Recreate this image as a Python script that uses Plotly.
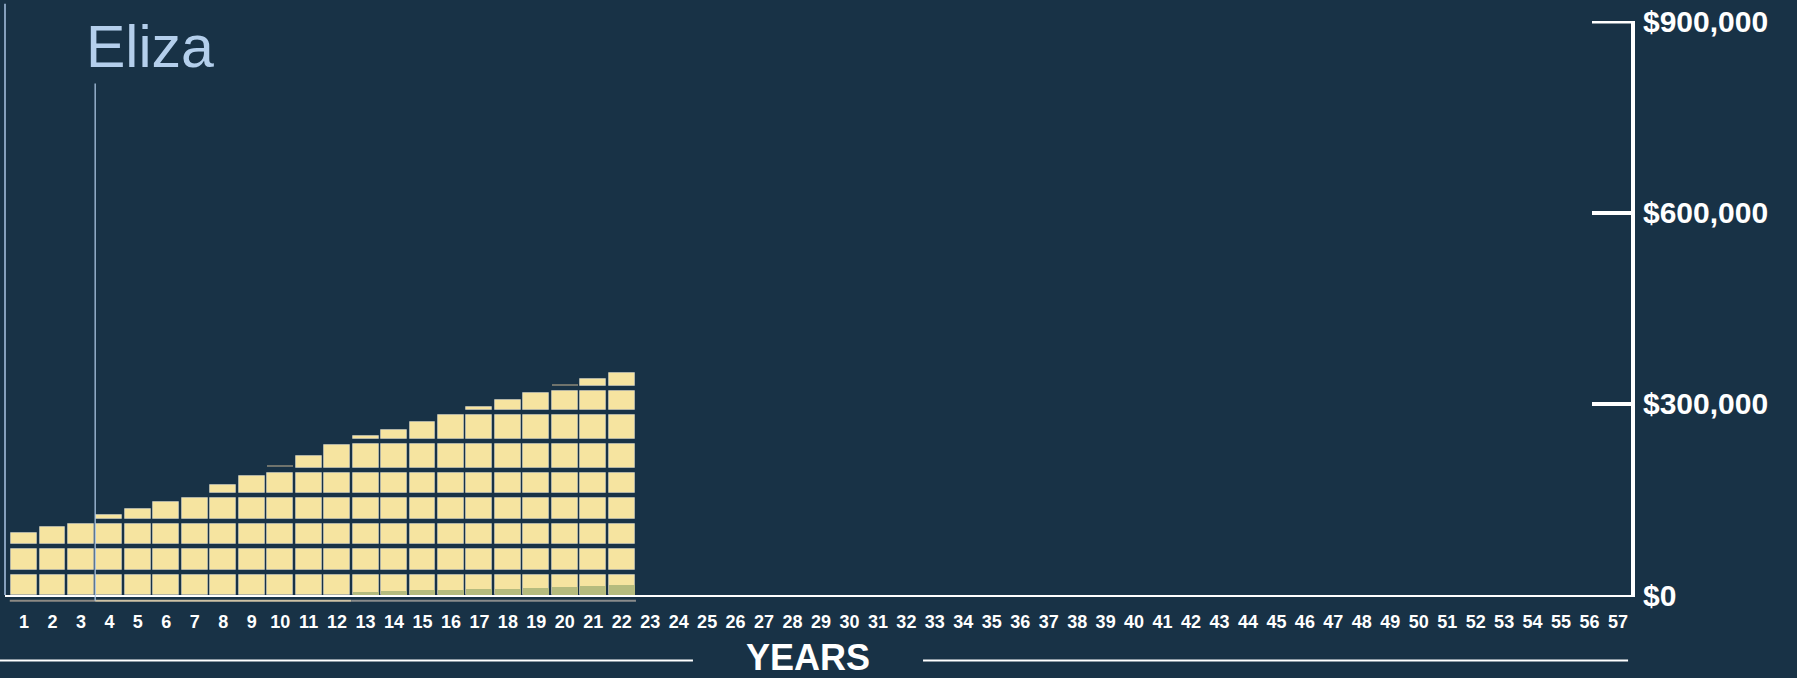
import plotly.graph_objects as go

# ---------------- data ----------------
YEARS = list(range(1, 58))
BALANCE = [105000, 114000, 120000, 133400, 143200, 153700, 160000, 180100, 194100, 203000,
           226700, 244000, 256700, 267100, 279000, 291000, 302300, 313800, 325100, 329500,
           347300, 356200] + [None] * 35
GROWTH = [None] * 12 + [5400, 6200, 7300, 8200, 8900, 9800, 11300, 12400, 14000, 16000] + [None] * 35
BLOCK_EDGES = [0, 40000, 80000, 120000, 160000, 200000, 245000, 291000, 328000, 368000]
PHASE_START = [1, 4, 13]
PHASE_END = [3, 12, 22]
MARKER_YEAR = 3.5
MARKER_LABEL = "Eliza"
Y_TICKS = [0, 300000, 600000, 900000]
Y_TICK_TEXT = ["$0", "$300,000", "$600,000", "$900,000"]
X_TITLE = "YEARS"

# ---------------- style ----------------
BG = "#183246"
BAR = "#f6e4a0"
GREEN = "#b5bb7e"
THIN = "#6f736c"
PHASE_COLORS = ["#8d8a84", "#cfc3a6", "#8a8c8c"]
LIGHT_BLUE = "#b4cfec"
FONT = "Liberation Sans, Arial, sans-serif"
GAP = 8000
THIN_H = 1500
BAR_W = 0.91
TICK_LEN = 39
PLOT_W = 1797 - 5 - 166

fig = go.Figure()

# stacked blocks
thin_x, thin_base = [], []
for k in range(len(BLOCK_EDGES) - 1):
    lo, hi = BLOCK_EDGES[k], BLOCK_EDGES[k + 1]
    bases, heights = [], []
    for yr, v in zip(YEARS, BALANCE):
        if v is None or v <= lo:
            bases.append(None); heights.append(None); continue
        s = min(v, hi) - lo
        if s > GAP:
            bases.append(lo); heights.append(s - GAP)
        else:
            bases.append(None); heights.append(None)
            thin_x.append(yr); thin_base.append(v - THIN_H)
    fig.add_trace(go.Bar(x=YEARS, y=heights, base=bases, width=BAR_W,
                         marker=dict(color=BAR, line=dict(color="rgba(255,255,255,0.35)", width=1)),
                         showlegend=False, hoverinfo="skip"))

fig.add_trace(go.Bar(x=thin_x, y=[THIN_H] * len(thin_x), base=thin_base, width=BAR_W,
                     marker=dict(color=THIN, line=dict(width=0)), showlegend=False, hoverinfo="skip"))

fig.add_trace(go.Bar(x=YEARS, y=GROWTH, base=[0] * len(YEARS), width=BAR_W,
                     marker=dict(color=GREEN, line=dict(width=0)), showlegend=False, hoverinfo="skip"))

# phase lines under the bars
shapes = []
for s, e, c in zip(PHASE_START, PHASE_END, PHASE_COLORS):
    shapes.append(dict(type="line", xref="x", yref="paper", x0=s - 0.5, x1=e + 0.5,
                       y0=-0.0098, y1=-0.0098, line=dict(color=c, width=2)))

# top tick (plotly drops inside ticks sitting on the plot edge)
shapes.append(dict(type="line", xref="paper", yref="y", x0=1 - TICK_LEN / PLOT_W, x1=1.001,
                   y0=Y_TICKS[-1], y1=Y_TICKS[-1], line=dict(color="white", width=4)))

# left edge line
shapes.append(dict(type="line", xref="paper", yref="paper", x0=0, x1=0, y0=0, y1=1.03,
                   line=dict(color="#a9c5e4", width=1.5)))
# marker line
shapes.append(dict(type="line", xref="x", yref="paper", x0=MARKER_YEAR, x1=MARKER_YEAR,
                   y0=-0.01, y1=0.891, line=dict(color=LIGHT_BLUE, width=1.2)))
# title flanking lines
shapes.append(dict(type="line", xref="paper", yref="paper", x0=-0.004, x1=0.4231,
                   y0=-0.114, y1=-0.114, line=dict(color="white", width=2)))
shapes.append(dict(type="line", xref="paper", yref="paper", x0=0.5646, x1=0.9982,
                   y0=-0.114, y1=-0.114, line=dict(color="white", width=2)))

annotations = [
    dict(text=MARKER_LABEL, xref="x", yref="paper", x=MARKER_YEAR, y=0.954,
         xanchor="left", yanchor="middle", xshift=-11, showarrow=False,
         font=dict(family=FONT, size=59, color=LIGHT_BLUE)),
    dict(text=X_TITLE, xref="paper", yref="paper", x=0.4938, y=-0.109,
         xanchor="center", yanchor="middle", showarrow=False,
         font=dict(family=FONT, size=36, color="white", weight="bold")),
]

fig.update_layout(
    width=1797, height=678, autosize=False,
    margin=dict(l=5, r=166, t=16, b=83),
    paper_bgcolor=BG, plot_bgcolor=BG,
    barmode="overlay", bargap=0,
    hovermode=False,
    shapes=shapes, annotations=annotations,
    xaxis=dict(range=[0.3325, 57.457], tickmode="array", tickvals=YEARS,
               ticktext=[str(y) for y in YEARS],
               tickfont=dict(family=FONT, size=18, color="white", weight="bold"),
               showline=True, linecolor="white", linewidth=2, showgrid=False,
               zeroline=False, ticks="", ticklabelstandoff=9, fixedrange=True),
    yaxis=dict(range=[0, 900600], side="right", tickmode="array", tickvals=Y_TICKS,
               ticktext=Y_TICK_TEXT,
               tickfont=dict(family=FONT, size=30, color="white", weight="bold"),
               showline=True, linecolor="white", linewidth=4, ticks="inside",
               ticklen=TICK_LEN, tickwidth=4, tickcolor="white", showgrid=False,
               zeroline=False, ticklabelstandoff=2, ticklabeloverflow="allow",
               fixedrange=True),
)

fig.write_html("out.html")
